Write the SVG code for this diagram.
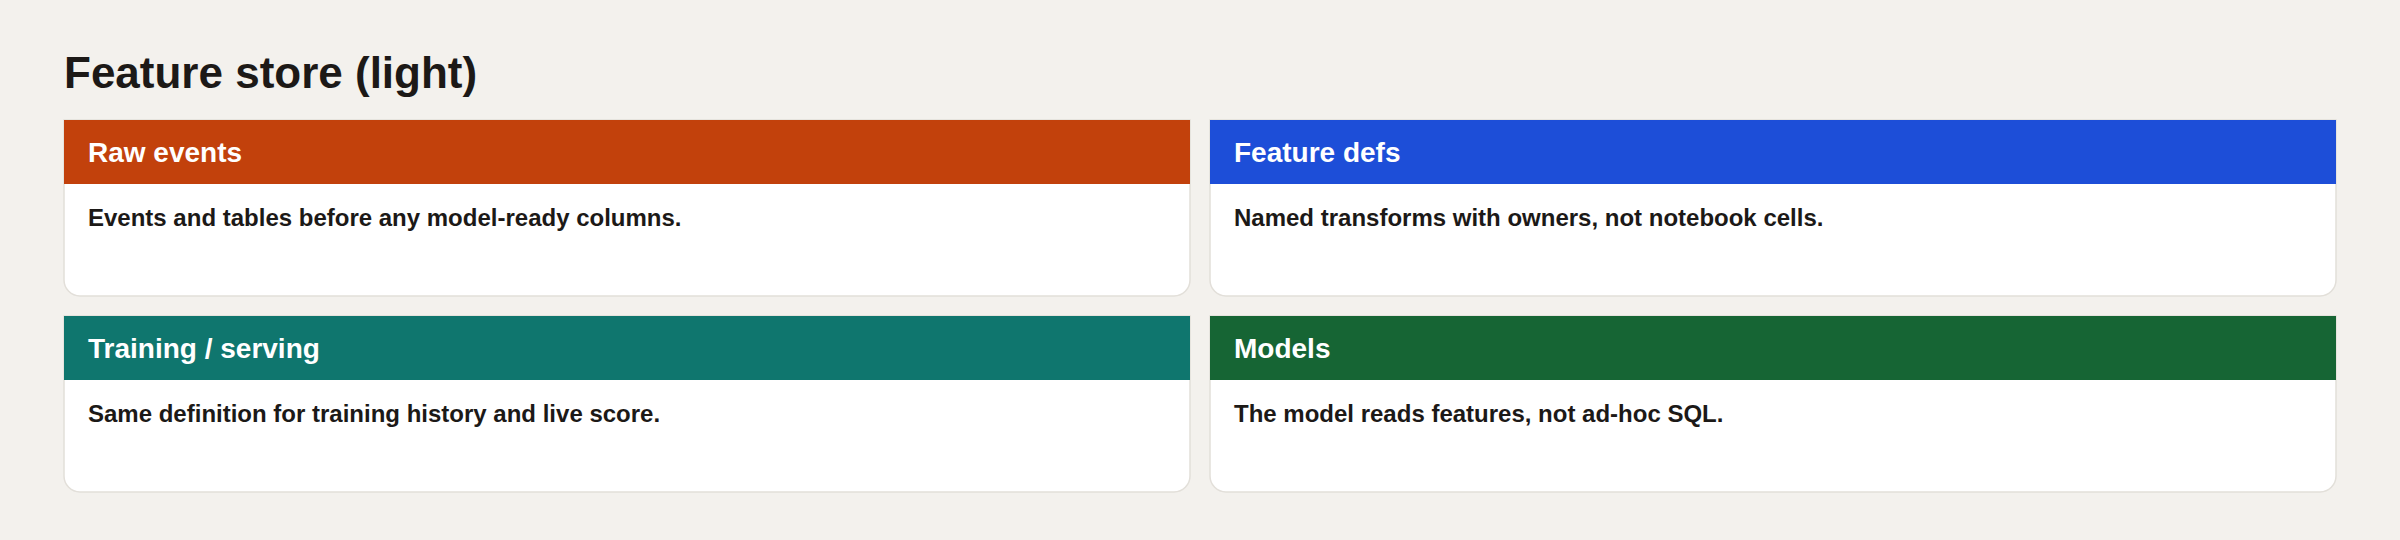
<svg xmlns="http://www.w3.org/2000/svg" width="2400" height="540" viewBox="0 0 2400 540">
  <style>
    .bg { fill: #f3f1ed; }
    .card { fill: #ffffff; stroke: #e2dfd9; stroke-width: 1.5; }
    .title { font-family: "Liberation Sans", Arial, sans-serif; font-weight: bold; font-size: 44px; fill: #1c1917; }
    .head { font-family: "Liberation Sans", Arial, sans-serif; font-weight: bold; font-size: 28px; fill: #ffffff; }
    .body { font-family: "Liberation Sans", Arial, sans-serif; font-weight: bold; font-size: 24px; fill: #1c1917; }
  </style>
  <defs>
    <path id="cardShape" d="M0,0 H1126 V160 A16,16 0 0 1 1110,176 H16 A16,16 0 0 1 0,160 Z"/>
  </defs>
  <rect class="bg" x="0" y="0" width="2400" height="540"/>
  <text class="title" x="64" y="88">Feature store (light)</text>

  <g id="raw-events" transform="translate(64,120)">
    <use href="#cardShape" class="card"/>
    <rect x="0" y="0" width="1126" height="64" fill="#c2410c"/>
    <text class="head" x="24" y="42">Raw events</text>
    <text class="body" x="24" y="106">Events and tables before any model-ready columns.</text>
  </g>

  <g id="feature-defs" transform="translate(1210,120)">
    <use href="#cardShape" class="card"/>
    <rect x="0" y="0" width="1126" height="64" fill="#1d4ed8"/>
    <text class="head" x="24" y="42">Feature defs</text>
    <text class="body" x="24" y="106">Named transforms with owners, not notebook cells.</text>
  </g>

  <g id="training-serving" transform="translate(64,316)">
    <use href="#cardShape" class="card"/>
    <rect x="0" y="0" width="1126" height="64" fill="#0f766e"/>
    <text class="head" x="24" y="42">Training / serving</text>
    <text class="body" x="24" y="106">Same definition for training history and live score.</text>
  </g>

  <g id="models" transform="translate(1210,316)">
    <use href="#cardShape" class="card"/>
    <rect x="0" y="0" width="1126" height="64" fill="#166534"/>
    <text class="head" x="24" y="42">Models</text>
    <text class="body" x="24" y="106">The model reads features, not ad-hoc SQL.</text>
  </g>

  <g id="connectors"/>
</svg>
